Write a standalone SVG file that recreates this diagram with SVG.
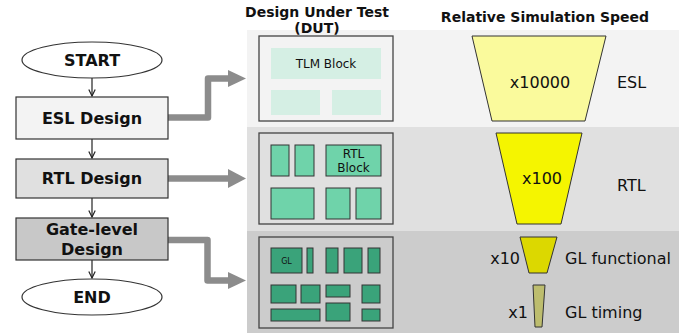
<svg xmlns="http://www.w3.org/2000/svg" width="689" height="333" viewBox="0 0 689 333">
<defs>
<style>
.b{font-family:"DejaVu Sans",Verdana,sans-serif;font-weight:bold;fill:#111}
.r{font-family:"DejaVu Sans",Verdana,sans-serif;fill:#111}
.fc{stroke:#333;stroke-width:1.2}
.flow{stroke:#222;stroke-width:1.2;fill:none}
.big{stroke:#8c8c8c;stroke-width:6.5;fill:none;stroke-linejoin:round}
.dut{fill:none;stroke:#444;stroke-width:1.3}
.tlm{fill:#d5efe4}
.rtl{fill:#6fd3aa;stroke:#333;stroke-width:1}
.gl{fill:#3aa37a;stroke:#333;stroke-width:1}
.tr{stroke:#333;stroke-width:1}
</style>
<marker id="v" viewBox="0 0 10 10" refX="9" refY="5" markerWidth="8" markerHeight="8" markerUnits="userSpaceOnUse" orient="auto">
<path d="M1,1 L9,5 L1,9" fill="none" stroke="#222" stroke-width="1.5"/>
</marker>
</defs>
<rect width="689" height="333" fill="#fff"/>
<g id="bands">
<rect x="247" y="30" width="432" height="97" fill="#f3f3f3"/>
<rect x="247" y="127" width="432" height="104" fill="#e0e0e0"/>
<rect x="247" y="231" width="432" height="102" fill="#cccccc"/>
</g>
<g id="headers">
<text class="b" x="317" y="17" font-size="14" text-anchor="middle">Design Under Test</text>
<text class="b" x="317" y="33" font-size="14" text-anchor="middle">(DUT)</text>
<text class="b" x="545" y="22" font-size="14" text-anchor="middle">Relative Simulation Speed</text>
</g>
<g id="connectors">
<line class="flow" x1="92" y1="78" x2="92" y2="96" marker-end="url(#v)"/>
<line class="flow" x1="92" y1="139" x2="92" y2="158" marker-end="url(#v)"/>
<line class="flow" x1="92" y1="198" x2="92" y2="217" marker-end="url(#v)"/>
<line class="flow" x1="92" y1="260" x2="92" y2="278" marker-end="url(#v)"/>
<path class="big" d="M168,117.5 H208 V78.5 H230"/>
<path d="M228,70 L246,78.5 L228,87 Z" fill="#8c8c8c"/>
<path class="big" d="M168,178.5 H230"/>
<path d="M228,169 L246,178.5 L228,188 Z" fill="#8c8c8c"/>
<path class="big" d="M168,240 H207.5 V280.5 H230"/>
<path d="M228,272 L246,280.5 L228,289 Z" fill="#8c8c8c"/>
</g>
<g id="start">
<ellipse class="fc" cx="92" cy="60" rx="70" ry="18" fill="#fff"/>
<text class="b" x="92" y="66" font-size="16" text-anchor="middle">START</text>
</g>
<g id="esl-design">
<rect class="fc" x="16" y="97" width="152" height="42" fill="#f3f3f3"/>
<text class="b" x="92" y="124" font-size="16" text-anchor="middle">ESL Design</text>
</g>
<g id="rtl-design">
<rect class="fc" x="16" y="159" width="152" height="39" fill="#e0e0e0"/>
<text class="b" x="92" y="184" font-size="16" text-anchor="middle">RTL Design</text>
</g>
<g id="gate-design">
<rect class="fc" x="16" y="218" width="152" height="42" fill="#c8c8c8"/>
<text class="b" x="92" y="235" font-size="16" text-anchor="middle">Gate-level</text>
<text class="b" x="92" y="255" font-size="16" text-anchor="middle">Design</text>
</g>
<g id="end">
<ellipse class="fc" cx="92" cy="297" rx="70" ry="18" fill="#fff"/>
<text class="b" x="92" y="303" font-size="16" text-anchor="middle">END</text>
</g>
<g id="dut-esl">
<rect class="dut" x="259" y="36" width="134" height="85"/>
<rect class="tlm" x="271" y="48" width="110" height="31"/>
<rect class="tlm" x="271" y="90" width="49" height="25"/>
<rect class="tlm" x="332" y="90" width="49" height="25"/>
<text class="r" x="326" y="68" font-size="12" text-anchor="middle">TLM Block</text>
</g>
<g id="dut-rtl">
<rect class="dut" x="259" y="133" width="134" height="91"/>
<rect class="rtl" x="271" y="145" width="18" height="31"/>
<rect class="rtl" x="295" y="145" width="19" height="31"/>
<rect class="rtl" x="326" y="145" width="55" height="31"/>
<rect class="rtl" x="271" y="188" width="43" height="31"/>
<rect class="rtl" x="326" y="188" width="24" height="31"/>
<rect class="rtl" x="356" y="188" width="25" height="31"/>
<text class="r" x="353.5" y="158" font-size="12" text-anchor="middle">RTL</text>
<text class="r" x="353.5" y="172" font-size="12" text-anchor="middle">Block</text>
</g>
<g id="dut-gl">
<rect class="dut" x="259" y="237" width="134" height="91"/>
<rect class="gl" x="271" y="248" width="31" height="25"/>
<rect class="gl" x="307" y="248" width="6" height="25"/>
<rect class="gl" x="326" y="248" width="12" height="25"/>
<rect class="gl" x="344" y="248" width="18" height="25"/>
<rect class="gl" x="368" y="248" width="12" height="25"/>
<rect class="gl" x="271" y="285" width="25" height="18"/>
<rect class="gl" x="301" y="285" width="19" height="18"/>
<rect class="gl" x="326" y="285" width="24" height="12"/>
<rect class="gl" x="362" y="285" width="18" height="18"/>
<rect class="gl" x="271" y="309" width="49" height="12"/>
<rect class="gl" x="326" y="303" width="24" height="18"/>
<rect class="gl" x="362" y="309" width="18" height="12"/>
<text class="r" x="286.5" y="264" font-size="8" text-anchor="middle">GL</text>
</g>
<g id="speed-esl">
<path class="tr" d="M472,36 H606 L585,121 H492 Z" fill="#fafa9c"/>
<text class="r" x="540" y="88" font-size="16" text-anchor="middle">x10000</text>
<text class="r" x="617" y="88" font-size="16">ESL</text>
</g>
<g id="speed-rtl">
<path class="tr" d="M496,133 H582 L561,224 H517 Z" fill="#f5f500"/>
<text class="r" x="542" y="184" font-size="16" text-anchor="middle">x100</text>
<text class="r" x="617" y="191" font-size="16">RTL</text>
</g>
<g id="speed-glf">
<path class="tr" d="M520,237 H557 L547,273 H529 Z" fill="#dcd800"/>
<text class="r" x="520" y="264" font-size="16" text-anchor="end">x10</text>
<text class="r" x="565" y="264" font-size="16">GL functional</text>
</g>
<g id="speed-glt">
<path class="tr" d="M533,285 H545 L542,327 H535 Z" fill="#bdbd6e"/>
<text class="r" x="528" y="318" font-size="16" text-anchor="end">x1</text>
<text class="r" x="565" y="318" font-size="16">GL timing</text>
</g>
</svg>
